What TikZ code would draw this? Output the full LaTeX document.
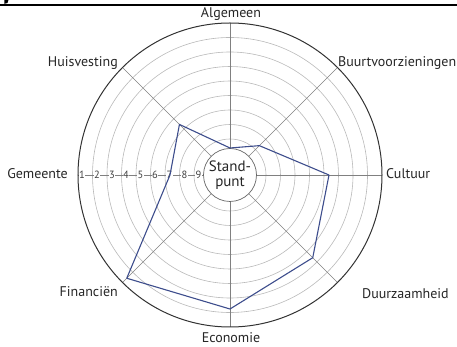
\documentclass[tikz,border=0pt]{standalone}
\usepackage{fontspec}
\setmainfont{PT Sans}
\usetikzlibrary{calc}
\definecolor{gridgray}{HTML}{B9B9B9}
\definecolor{spokegray}{HTML}{808080}
\definecolor{scoreblue}{HTML}{3D4D8C}
\newcommand{\ring}[1]{
\draw[gridgray, line width=0.6pt] (Z) circle (#1);
}
\newcommand{\spoke}[2]{
\coordinate (#1) at (#2:152);
\draw[spokegray, line width=0.7pt] (#2:27) -- (#1);
}
\newcommand{\schaal}[2]{
\node[fill=white, inner sep=0.6pt, font=\fontsize{10.5}{10}\selectfont, text=black!75] (s#1) at (-#2,0) {#1};
}

\begin{document}
\begin{tikzpicture}[x=1pt, y=1pt]
			\useasboundingbox (-230,-172) rectangle (227,175);
			\coordinate (Z) at (0,0);
			
			\ring{137.5}
			\ring{123}
			\ring{108.5}
			\ring{94}
			\ring{79.5}
			\ring{65}
			\ring{50.5}
			\ring{36}
			
			\spoke{A}{90}
			\spoke{B}{45}
			\spoke{C}{0}
			\spoke{D}{-45}
			\spoke{E}{-90}
			\spoke{F}{-135}
			\spoke{G}{180}
			\spoke{H}{135}
			
			\draw[black!80, line width=1pt] (Z) circle (152);
			\draw[black!60, line width=0.7pt, fill=white] (Z) circle (26.5) node[align=center, font=\fontsize{15}{15.5}\selectfont, text=black!85] (stand) {Stand-\\punt};
			
			\schaal{1}{148}
			\schaal{2}{133}
			\schaal{3}{118}
			\schaal{4}{104}
			\schaal{5}{89.5}
			\schaal{6}{75}
			\schaal{7}{60.5}
			\schaal{8}{45.5}
			\schaal{9}{31.5}
			
			\coordinate (pA) at (90:27);
			\coordinate (pB) at (45:41.5);
			\coordinate (pC) at (0:99);
			\coordinate (pD) at (-45:117);
			\coordinate (pE) at (-90:134);
			\coordinate (pF) at (-135:146);
			\coordinate (pG) at (180:60);
			\coordinate (pH) at (135:71.5);
			\draw[scoreblue, line width=1.1pt, line join=round] (pA) -- (pB) -- (pC) -- (pD) -- (pE) -- (pF) -- (pG) -- (pH) -- cycle;
			
			\tikzset{label text/.style={font=\fontsize{14}{15}\selectfont, text=black!85, inner sep=0pt}}
			\node[label text] (lA) at (1,161) {Algemeen};
			\node[label text, anchor=west] (lB) at (108,112) {Buurtvoorzieningen};
			\node[label text, anchor=west] (lC) at (156,1) {Cultuur};
			\node[label text, anchor=west] (lD) at (132,-119) {Duurzaamheid};
			\node[label text] (lE) at (1,-163) {Economie};
			\node[label text, anchor=east] (lF) at (-112,-117) {Financiën};
			\node[label text, anchor=east] (lG) at (-162,1) {Gemeente};
			\node[label text, anchor=east] (lH) at (-112,112) {Huisvesting};
			
			\draw[black, line width=1.4pt] (-230,170) -- (227,170);
			\fill[black] (-225.5,175) -- (-221.5,175) -- (-222.5,172) -- (-225.5,171.2) -- cycle;
\end{tikzpicture}
\end{document}
